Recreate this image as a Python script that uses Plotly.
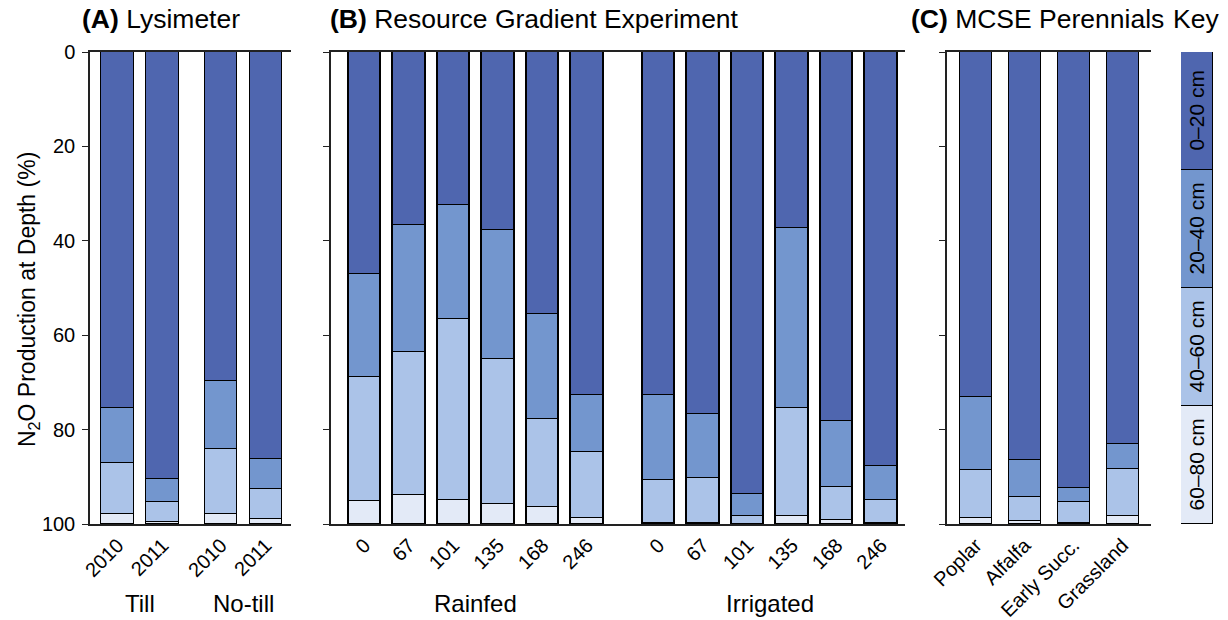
import plotly.graph_objects as go

# ---------------- data ----------------
layers = ["0–20 cm", "20–40 cm", "40–60 cm", "60–80 cm"]
colors = ["#4F66AF", "#7396CE", "#ABC3E8", "#E3EAF7"]

# Panel A: Lysimeter (percent of N2O production in each depth layer)
lys_labels = ["2010", "2011", "2010", "2011"]
lys_groups = ["Till", "No-till"]
lys_0_20 = [75.5, 90.5, 69.8, 86.2]
lys_20_40 = [11.6, 4.9, 14.3, 6.4]
lys_40_60 = [10.8, 4.1, 13.8, 6.3]
lys_60_80 = [2.1, 0.5, 2.1, 1.1]

# Panel B: Resource Gradient Experiment (N rate, kg N/ha)
rge_labels = ["0", "67", "101", "135", "168", "246",
              "0", "67", "101", "135", "168", "246"]
rge_groups = ["Rainfed", "Irrigated"]
rge_0_20 = [47.0, 36.7, 32.4, 37.7, 55.5, 72.7,
            72.7, 76.6, 93.6, 37.3, 78.1, 87.8]
rge_20_40 = [21.8, 26.8, 24.1, 27.3, 22.2, 12.0,
             18.0, 13.7, 4.8, 38.1, 14.1, 7.2]
rge_40_60 = [26.3, 30.4, 38.5, 30.7, 18.6, 14.0,
             9.0, 9.5, 1.5, 22.8, 7.0, 4.7]
rge_60_80 = [4.9, 6.1, 5.0, 4.3, 3.7, 1.3,
             0.3, 0.2, 0.1, 1.8, 0.8, 0.3]

# Panel C: MCSE Perennials
per_labels = ["Poplar", "Alfalfa", "Early Succ.", "Grassland"]
per_0_20 = [73.1, 86.4, 92.4, 83.1]
per_20_40 = [15.4, 7.9, 2.9, 5.3]
per_40_60 = [10.3, 5.0, 4.4, 9.9]
per_60_80 = [1.2, 0.7, 0.3, 1.7]

# Key
key_values = [25, 25, 25, 25]

y_ticks = [0, 20, 40, 60, 80, 100]

# ---------------- layout helpers ----------------
W, H = 1228, 620
FONT = "Liberation Sans, Arial, sans-serif"
LINE = "#222222"

def px_x(p):
    return p / W

def px_y(p):
    return 1 - p / H

y_dom = [px_y(524), px_y(52)]

fig = go.Figure()

# positions of bars (layout only)
posA = [0, 1, 2.3, 3.3]
posB = [0, 1, 2, 3, 4, 5, 6.6, 7.6, 8.6, 9.6, 10.6, 11.6]
posC = [0, 1, 2, 3]

panels = [
    ("x", "y", posA, [lys_0_20, lys_20_40, lys_40_60, lys_60_80], 0.73),
    ("x2", "y2", posB, [rge_0_20, rge_20_40, rge_40_60, rge_60_80], 0.73),
    ("x3", "y3", posC, [per_0_20, per_20_40, per_40_60, per_60_80], 0.65),
]

for xa, ya, pos, series, bw in panels:
    for i, vals in enumerate(series):
        fig.add_trace(go.Bar(
            x=pos, y=vals, xaxis=xa, yaxis=ya, width=bw,
            marker=dict(color=colors[i], line=dict(color="black", width=1.3)),
            name=layers[i], showlegend=False, hoverinfo="skip",
        ))

# Key column
for i, v in enumerate(key_values):
    fig.add_trace(go.Bar(
        x=[0], y=[v], xaxis="x4", yaxis="y4", width=1,
        marker=dict(color=colors[i], line=dict(color="black", width=1.3)),
        text=[layers[i]], textposition="inside", textangle=-90,
        insidetextanchor="middle",
        textfont=dict(family=FONT, size=21, color="black"),
        showlegend=False, hoverinfo="skip",
    ))

def xaxis(dom, rng, pos, labels, anchor):
    return dict(domain=dom, range=rng, anchor=anchor,
                tickmode="array", tickvals=pos, ticktext=labels,
                tickangle=-45, ticks="", showgrid=False, zeroline=False,
                showline=True, mirror=True, linecolor=LINE, linewidth=1.5,
                tickfont=dict(family=FONT, size=20, color="black"),
                automargin=False, fixedrange=True)

def yaxis(anchor, labels=True):
    return dict(domain=y_dom, range=[100, 0], anchor=anchor,
                tickmode="array", tickvals=y_ticks,
                ticks="outside", ticklen=6, tickwidth=1.3, tickcolor=LINE,
                showticklabels=labels, showgrid=False, zeroline=False,
                showline=True, linecolor=LINE, linewidth=1.5,
                ticklabelstandoff=3,
                tickfont=dict(family=FONT, size=20, color="black"),
                automargin=False, fixedrange=True)

fig.update_layout(
    width=W, height=H,
    margin=dict(l=0, r=0, t=0, b=0),
    paper_bgcolor="white", plot_bgcolor="white",
    barmode="stack", bargap=0,
    template="none",
    font=dict(family=FONT, color="black"),
    xaxis=xaxis([px_x(90), px_x(291)], [-0.62, 3.86], posA, lys_labels, "y"),
    xaxis2=xaxis([px_x(330.7), px_x(905)], [-0.76, 12.13], posB, rge_labels, "y2"),
    xaxis3=xaxis([px_x(947), px_x(1151)], [-0.59, 3.58], posC, per_labels, "y3"),
    xaxis4=dict(domain=[px_x(1181), px_x(1213)], range=[-0.5, 0.5], anchor="y4",
                showticklabels=False, ticks="", showgrid=False, zeroline=False,
                showline=False, fixedrange=True),
    yaxis=yaxis("x", True),
    yaxis2=yaxis("x2", False),
    yaxis3=yaxis("x3", False),
    yaxis4=dict(domain=y_dom, range=[100, 0], anchor="x4", showticklabels=False,
                ticks="", showgrid=False, zeroline=False, showline=False,
                fixedrange=True),
)

ann = []
# panel titles
titles = [("<b>(A)</b> Lysimeter", 80), ("<b>(B)</b> Resource Gradient Experiment", 328),
          ("<b>(C)</b> MCSE Perennials", 909), ("Key", 1171)]
for t, xp in titles:
    ann.append(dict(text=t, x=px_x(xp), y=px_y(19), xref="paper", yref="paper",
                    xanchor="left", yanchor="middle", showarrow=False,
                    font=dict(family=FONT, size=26.5, color="black")))

# group labels
groupsA = [(lys_groups[0], (posA[0] + posA[1]) / 2), (lys_groups[1], (posA[2] + posA[3]) / 2)]
groupsB = [(rge_groups[0], sum(posB[:6]) / 6), (rge_groups[1], sum(posB[6:]) / 6)]
for xa, groups in (("x", groupsA), ("x2", groupsB)):
    for g, xc in groups:
        ann.append(dict(text=g, x=xc, y=px_y(603), xref=xa, yref="paper",
                        xanchor="center", yanchor="middle", showarrow=False,
                        font=dict(family=FONT, size=24, color="black")))

# y-axis title
ann.append(dict(text="N<sub>2</sub>O Production at Depth (%)", x=px_x(28), y=px_y(300),
                xref="paper", yref="paper", xanchor="center", yanchor="middle",
                textangle=-90, showarrow=False,
                font=dict(family=FONT, size=23, color="black")))

fig.update_layout(annotations=ann)

fig.write_html("out.html", config={"displayModeBar": False},
               post_script="document.body.style.margin='0';")
